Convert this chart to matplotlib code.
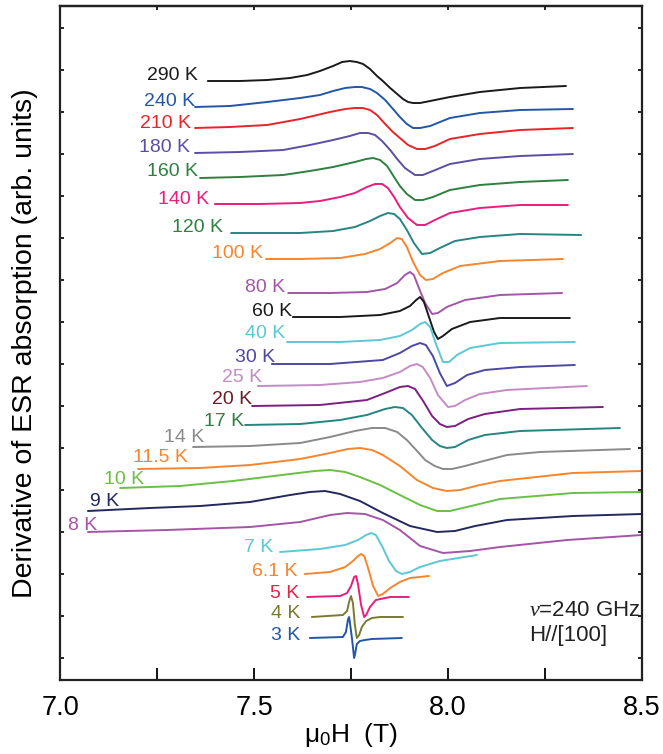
import matplotlib
matplotlib.use("Agg")
import matplotlib.pyplot as plt

plt.rcParams["font.family"] = ["Liberation Sans", "DejaVu Sans"]
plt.rcParams["mathtext.fontset"] = "custom"
plt.rcParams["mathtext.rm"] = "Liberation Sans"
plt.rcParams["mathtext.it"] = "Liberation Serif:italic"

# =========================
# Data (field in T, signal in arb. units incl. offset)
# =========================
temps = ["290 K", "240 K", "210 K", "180 K", "160 K", "140 K", "120 K", "100 K",
         "80 K", "60 K", "40 K", "30 K", "25 K", "20 K", "17 K", "14 K",
         "11.5 K", "10 K", "9 K", "8 K", "7 K", "6.1 K", "5 K", "4 K", "3 K"]

h_290 = [7.381, 7.464, 7.534, 7.593, 7.637, 7.670, 7.704, 7.727, 7.747, 7.765, 7.781, 7.799, 7.817,
         7.832, 7.851, 7.869, 7.884, 7.897, 7.910, 7.928, 7.954, 8.005, 8.082, 8.186, 8.304]
s_290 = [599, 599, 600, 602, 605, 609, 614, 618, 619, 618, 616, 611, 604,
         599, 592, 586, 581, 578, 577, 577, 579, 583, 588, 592, 594]

h_240 = [7.348, 7.438, 7.534, 7.619, 7.670, 7.704, 7.735, 7.760, 7.778, 7.799, 7.817,
         7.838, 7.856, 7.876, 7.894, 7.910, 7.928, 7.954, 8.005, 8.082, 8.186, 8.322]
s_240 = [573, 574, 578, 582, 585, 589, 592, 593, 593, 591, 587,
         580, 572, 563, 556, 552, 552, 554, 562, 567, 570, 571]

h_210 = [7.348, 7.438, 7.534, 7.619, 7.696, 7.735, 7.760, 7.781, 7.799, 7.817, 7.838,
         7.858, 7.876, 7.897, 7.920, 7.941, 7.966, 8.005, 8.082, 8.186, 8.322]
s_210 = [552, 553, 555, 561, 568, 571, 572, 572, 570, 565, 556,
         548, 542, 535, 531, 531, 534, 541, 546, 550, 552]

h_180 = [7.348, 7.464, 7.575, 7.644, 7.704, 7.747, 7.773, 7.794, 7.812, 7.830,
         7.851, 7.869, 7.889, 7.915, 7.935, 7.961, 8.005, 8.082, 8.186, 8.322]
s_180 = [527, 528, 530, 535, 540, 544, 547, 547, 545, 539,
         530, 521, 512, 505, 505, 509, 516, 521, 524, 526]

h_160 = [7.361, 7.464, 7.575, 7.644, 7.704, 7.760, 7.789, 7.807, 7.825, 7.843,
         7.861, 7.876, 7.894, 7.915, 7.935, 7.961, 8.005, 8.082, 8.186, 8.309]
s_160 = [502, 503, 505, 509, 513, 518, 521, 522, 520, 514,
         503, 494, 486, 480, 480, 483, 490, 495, 498, 500]

h_140 = [7.399, 7.515, 7.619, 7.670, 7.722, 7.760, 7.791, 7.812, 7.830, 7.845,
         7.861, 7.876, 7.897, 7.920, 7.941, 7.966, 8.005, 8.082, 8.186, 8.309]
s_140 = [476, 476, 477, 479, 483, 487, 493, 496, 496, 492,
         483, 473, 462, 455, 455, 460, 467, 472, 475, 475]

h_120 = [7.441, 7.619, 7.704, 7.760, 7.799, 7.825, 7.845, 7.861, 7.876,
         7.894, 7.912, 7.933, 7.954, 7.979, 8.018, 8.082, 8.186, 8.343]
s_120 = [447, 447, 449, 453, 459, 464, 467, 466, 461,
         450, 437, 426, 427, 432, 439, 443, 446, 445]

h_100 = [7.531, 7.619, 7.722, 7.786, 7.825, 7.851, 7.869, 7.881, 7.894,
         7.910, 7.928, 7.943, 7.961, 7.987, 8.031, 8.134, 8.296]
s_100 = [421, 421, 422, 426, 431, 437, 442, 441, 433,
         418, 405, 400, 401, 407, 414, 419, 421]

h_80 = [7.588, 7.696, 7.791, 7.838, 7.869, 7.889, 7.902, 7.912, 7.925,
        7.941, 7.959, 7.974, 7.997, 8.044, 8.134, 8.294]
s_80 = [387, 387, 388, 391, 397, 405, 408, 405, 392,
        377, 366, 367, 373, 380, 385, 387]

h_60 = [7.600, 7.722, 7.825, 7.876, 7.902, 7.918, 7.928, 7.938, 7.951,
        7.964, 7.974, 7.987, 8.010, 8.057, 8.134, 8.314]
s_60 = [363, 363, 365, 369, 374, 380, 383, 378, 363,
        348, 341, 344, 351, 358, 362, 362]

h_40 = [7.585, 7.722, 7.825, 7.876, 7.907, 7.928, 7.941, 7.954, 7.969,
        7.987, 8.003, 8.023, 8.057, 8.134, 8.327]
s_40 = [338, 338, 340, 344, 350, 356, 358, 353, 336,
        318, 318, 325, 332, 337, 338]

h_30 = [7.546, 7.696, 7.832, 7.876, 7.907, 7.928, 7.943, 7.961, 7.979,
        7.997, 8.018, 8.049, 8.095, 8.186, 8.327]
s_30 = [316, 316, 320, 327, 334, 337, 335, 324, 307,
        294, 297, 305, 310, 313, 315]

h_25 = [7.510, 7.670, 7.773, 7.832, 7.876, 7.902, 7.920, 7.935, 7.954,
        7.974, 8.000, 8.018, 8.044, 8.082, 8.152, 8.358]
s_25 = [294, 295, 298, 302, 308, 314, 316, 313, 302,
        285, 273, 274, 280, 286, 290, 294]

h_20 = [7.495, 7.670, 7.791, 7.838, 7.876, 7.897, 7.915, 7.936, 7.959,
        7.979, 7.997, 8.018, 8.052, 8.095, 8.186, 8.399]
s_20 = [274, 275, 280, 287, 293, 294, 291, 279, 264,
        256, 253, 254, 261, 266, 271, 273]

h_17 = [7.477, 7.619, 7.722, 7.791, 7.838, 7.863, 7.884, 7.907, 7.933,
        7.959, 7.979, 7.997, 8.018, 8.052, 8.095, 8.186, 8.443]
s_17 = [255, 256, 260, 265, 271, 273, 272, 265, 252,
        240, 234, 232, 233, 240, 245, 249, 252]

h_14 = [7.343, 7.490, 7.619, 7.696, 7.760, 7.804, 7.838, 7.869, 7.894, 7.918,
        7.941, 7.966, 7.987, 8.010, 8.044, 8.082, 8.152, 8.237, 8.469]
s_14 = [233, 234, 237, 243, 249, 252, 252, 248, 240, 230,
        220, 214, 211, 211, 214, 218, 225, 228, 231]

h_115 = [7.201, 7.361, 7.490, 7.619, 7.696, 7.742, 7.773, 7.804, 7.832,
         7.876, 7.920, 7.961, 7.997, 8.031, 8.082, 8.134, 8.322, 8.500]
s_115 = [211, 212, 215, 221, 227, 231, 232, 230, 225,
         214, 200, 192, 189, 190, 195, 199, 207, 209]

h_10 = [7.155, 7.309, 7.446, 7.593, 7.657, 7.696, 7.735, 7.773, 7.825,
        7.876, 7.928, 7.972, 8.005, 8.049, 8.134, 8.322, 8.500]
s_10 = [192, 194, 199, 206, 209, 210, 208, 203, 195,
        185, 175, 169, 169, 173, 181, 187, 188]

h_9 = [7.072, 7.232, 7.361, 7.490, 7.593, 7.644, 7.683, 7.722, 7.773,
       7.832, 7.902, 7.972, 8.018, 8.070, 8.152, 8.322, 8.500]
s_9 = [169, 172, 174, 178, 185, 188, 189, 186, 179,
       167, 154, 148, 149, 154, 160, 164, 166]

h_8 = [7.072, 7.276, 7.490, 7.619, 7.696, 7.740, 7.786, 7.832, 7.876,
       7.928, 7.987, 8.057, 8.134, 8.307, 8.500]
s_8 = [148, 150, 153, 158, 165, 167, 166, 160, 150,
       134, 127, 129, 133, 140, 145]

h_7 = [7.567, 7.670, 7.735, 7.768, 7.789, 7.802, 7.814, 7.830, 7.848,
       7.866, 7.881, 7.902, 7.928, 7.979, 8.075]
s_7 = [128, 131, 135, 140, 145, 147, 145, 134, 119,
       109, 106, 108, 113, 119, 125]

h_61 = [7.631, 7.696, 7.735, 7.755, 7.768, 7.776, 7.784, 7.794, 7.807,
        7.820, 7.832, 7.851, 7.876, 7.902, 7.951]
s_61 = [106, 108, 113, 119, 124, 126, 124, 112, 94,
        84, 86, 92, 98, 102, 104]

h_5 = [7.637, 7.722, 7.740, 7.750, 7.758, 7.763, 7.768, 7.776, 7.784,
       7.789, 7.799, 7.814, 7.851, 7.899]
s_5 = [83, 84, 87, 94, 103, 104, 96, 75, 63,
       65, 73, 80, 83, 83]

h_4 = [7.649, 7.729, 7.740, 7.745, 7.750, 7.755, 7.760, 7.765, 7.771,
       7.778, 7.789, 7.804, 7.825, 7.884]
s_4 = [63, 65, 69, 78, 84, 77, 55, 42, 45,
       53, 59, 62, 63, 63]

h_3 = [7.644, 7.729, 7.737, 7.742, 7.745, 7.747, 7.753, 7.758, 7.760,
       7.765, 7.773, 7.786, 7.804, 7.881]
s_3 = [42, 43, 48, 60, 63, 58, 40, 22, 25,
       36, 39, 40, 41, 42]

fields = [h_290, h_240, h_210, h_180, h_160, h_140, h_120, h_100, h_80, h_60, h_40,
          h_30, h_25, h_20, h_17, h_14, h_115, h_10, h_9, h_8, h_7, h_61, h_5, h_4, h_3]
signals = [s_290, s_240, s_210, s_180, s_160, s_140, s_120, s_100, s_80, s_60, s_40,
           s_30, s_25, s_20, s_17, s_14, s_115, s_10, s_9, s_8, s_7, s_61, s_5, s_4, s_3]

# =========================
# Style
# =========================
line_colors = ["#1a1a1a", "#2356a8", "#e8232a", "#5c4ea3", "#2f7f3f", "#ec1c7c",
               "#268581", "#f7852d", "#a256a8", "#1a1a1a", "#5bc8d4", "#4d48a2",
               "#c48bc5", "#7c1f80", "#25857f", "#8a8a8a", "#f7852d", "#6abf45",
               "#23285e", "#a455a8", "#5bc8d4", "#f7852d", "#ec1c7c", "#7b7a32", "#2356a8"]
label_colors = list(line_colors)
label_colors[6] = "#2e8040"
label_colors[13] = "#6e1a24"
label_colors[14] = "#2e8040"
label_colors[22] = "#e8233f"

# label anchor (right edge in T, vertical centre in arb. units)
label_x = [7.356, 7.348, 7.338, 7.335, 7.356, 7.384, 7.420, 7.523, 7.580, 7.598,
           7.580, 7.554, 7.521, 7.495, 7.474, 7.371, 7.330, 7.216, 7.152, 7.095,
           7.549, 7.613, 7.616, 7.619, 7.619]
label_y = [604, 578, 557, 533, 508, 481, 452, 427, 392, 368, 347, 323, 303, 281,
           258, 242, 222, 200, 178, 155, 132, 108, 87, 66, 44]


def main() -> None:
    fig = plt.figure(figsize=(6.63, 7.54), dpi=100)
    ax = fig.add_axes([60 / 663, 74 / 754, 582 / 663, 674 / 754])

    for idx, name in enumerate(temps):
        ax.plot(fields[idx], signals[idx], color=line_colors[idx], linewidth=1.4,
                solid_joinstyle="round", solid_capstyle="round")
        ax.text(label_x[idx], label_y[idx], name, color=label_colors[idx],
                fontsize=14, ha="right", va="center")

    ax.text(8.21, 70, r"$\nu$=240 GHz", fontsize=16, ha="left", va="center",
            color="#222222")
    ax.text(8.21, 44, "H//[100]", fontsize=16, ha="left", va="center",
            color="#222222")

    ax.set_xlim(7.0, 8.5)
    ax.set_ylim(0, 674)
    ax.set_xticks([7.0, 7.5, 8.0, 8.5])
    ax.set_xticklabels(["7.0", "7.5", "8.0", "8.5"])
    ax.set_xticks([7.25, 7.75, 8.25], minor=True)
    ax.set_yticks([22 + 42 * k for k in range(16)])
    ax.set_yticklabels([])

    ax.tick_params(axis="x", which="both", direction="in", length=9, width=1.3,
                   labelsize=19.5, pad=11, top=False)
    ax.tick_params(axis="y", which="both", direction="in", length=3, width=1.2,
                   right=True)
    sec = ax.secondary_xaxis("top")
    sec.set_xticks([7.0, 7.25, 7.5, 7.75, 8.0, 8.25, 8.5])
    sec.tick_params(direction="in", length=3, width=1.2, labeltop=False)
    sec.set_xticklabels([])

    for spine in ax.spines.values():
        spine.set_linewidth(1.6)
        spine.set_color("#222222")
    sec.spines["top"].set_linewidth(1.6)

    ax.set_xlabel("μ$_0$H  (T)", fontsize=19, labelpad=0)
    ax.set_ylabel("Derivative of ESR absorption (arb. units)", fontsize=20.5,
                  labelpad=12)

    fig.savefig("out.png", dpi=100)


if __name__ == "__main__":
    main()
